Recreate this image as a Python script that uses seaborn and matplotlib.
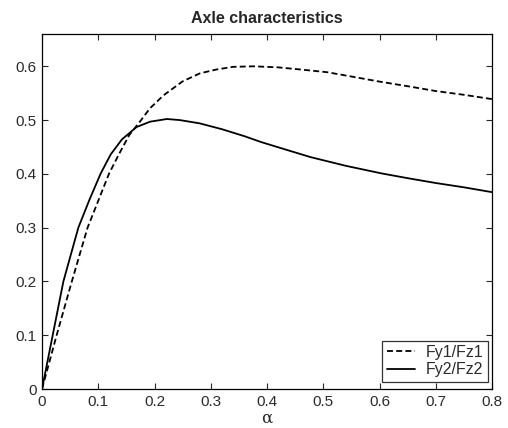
import matplotlib
matplotlib.use("Agg")
import matplotlib.pyplot as plt
import pandas as pd
import seaborn as sns

# curve values
alpha1 = [0, 0.026, 0.053, 0.081, 0.1, 0.119, 0.136, 0.155, 0.174, 0.192, 0.216, 0.25,
          0.281, 0.31, 0.34, 0.377, 0.42, 0.46, 0.507, 0.55, 0.603, 0.65, 0.7, 0.75, 0.8]
fy1 = [0, 0.1, 0.2, 0.3, 0.35, 0.4, 0.435, 0.472, 0.497, 0.522, 0.546, 0.572,
       0.587, 0.594, 0.599, 0.600, 0.598, 0.594, 0.589, 0.581, 0.571, 0.563, 0.554, 0.547, 0.539]

alpha2 = [0, 0.019, 0.038, 0.0646, 0.084, 0.104, 0.122, 0.142, 0.168, 0.192, 0.222, 0.245,
          0.28, 0.32, 0.36, 0.39, 0.44, 0.478, 0.54, 0.603, 0.65, 0.7, 0.75, 0.8]
fy2 = [0, 0.1, 0.2, 0.3, 0.351, 0.4, 0.436, 0.464, 0.487, 0.497, 0.502, 0.5,
       0.494, 0.483, 0.47, 0.459, 0.443, 0.431, 0.415, 0.401, 0.392, 0.383, 0.375, 0.366]

labels = ['Fy1/Fz1', 'Fy2/Fz2']
xticks = [0, 0.1, 0.2, 0.3, 0.4, 0.5, 0.6, 0.7, 0.8]
yticks = [0, 0.1, 0.2, 0.3, 0.4, 0.5, 0.6]
xticklabels = ['0', '0.1', '0.2', '0.3', '0.4', '0.5', '0.6', '0.7', '0.8']
yticklabels = ['0', '0.1', '0.2', '0.3', '0.4', '0.5', '0.6']

df1 = pd.DataFrame({'alpha': alpha1, 'val': fy1})
df2 = pd.DataFrame({'alpha': alpha2, 'val': fy2})

sns.set_style("ticks")
plt.rcParams['font.family'] = ['Liberation Sans', 'DejaVu Sans']

fig = plt.figure(figsize=(5.08, 4.28), dpi=100)
ax = fig.add_axes([0.0827, 0.0911, 0.8858, 0.8294])

sns.lineplot(data=df1, x='alpha', y='val', ax=ax, color='black', lw=1.3,
             linestyle=(0, (3.3, 1.8)), label=labels[0], sort=False)
sns.lineplot(data=df2, x='alpha', y='val', ax=ax, color='black', lw=1.3,
             label=labels[1], sort=False)

ax.set_xlim(0, 0.8)
ax.set_ylim(0, 0.66)
ax.set_xticks(xticks)
ax.set_yticks(yticks)
ax.set_xticklabels(xticklabels)
ax.set_yticklabels(yticklabels)
ax.tick_params(direction='in', top=True, right=True, length=4, width=0.8,
               labelsize=11, labelcolor='#2a2a2a', pad=4)
for s in ax.spines.values():
    s.set_visible(True)
    s.set_linewidth(0.9)
    s.set_color('black')

ax.set_title('Axle characteristics', fontsize=11.5, fontweight='bold', pad=8)
ax.set_xlabel('α', fontsize=12, family=['DejaVu Serif'], labelpad=1)
ax.set_ylabel('')

leg = ax.legend(loc='lower right', bbox_to_anchor=(0.991, 0.02), fontsize=11.5,
                handlelength=1.8, frameon=True, fancybox=False, borderaxespad=0,
                labelspacing=0.15, borderpad=0.28, handletextpad=0.65)
leg.get_frame().set_edgecolor('black')
leg.get_frame().set_linewidth(0.9)
for t in leg.get_texts():
    t.set_color('#2a2a2a')

fig.savefig('out.png', dpi=100)
